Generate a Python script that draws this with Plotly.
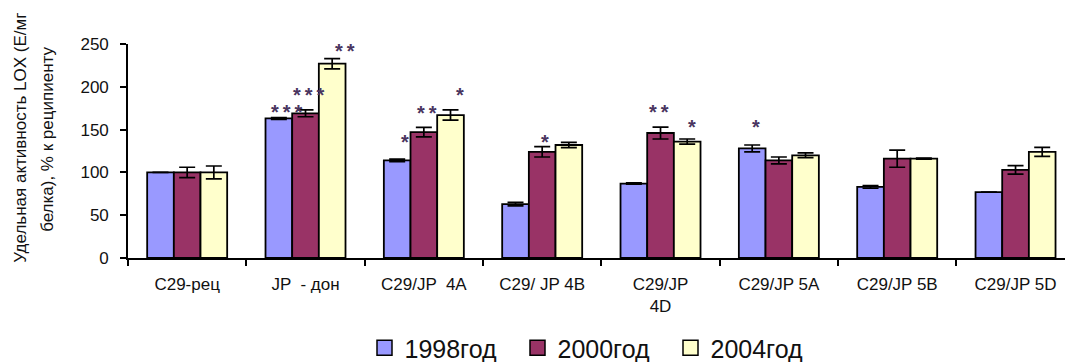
import plotly.graph_objects as go

# LOX specific activity, % of recipient
categories = ["C29-рец", "JP  - дон", "C29/JP  4A", "C29/ JP 4B",
              "C29/JP<br>4D", "C29/JP 5A", "C29/JP 5B", "C29/JP 5D"]
series_names = ["1998год", "2000год", "2004год"]

values_1998 = [100, 163, 114, 63, 87, 128, 83, 77]
values_2000 = [100, 169, 147, 124, 146, 114, 116, 103]
values_2004 = [100, 227, 167, 132, 136, 120, 116, 124]

errors_1998 = [0, 1, 1.5, 2, 0.8, 4, 1.5, 0]
errors_2000 = [6, 4, 5.5, 6, 7, 4, 10, 5]
errors_2004 = [7.5, 6, 6, 3, 3, 2.7, 0.6, 5.3]

# significance marks: (category index, series index, text)
significance = [
    (1, 0, "***"), (1, 1, "***"), (1, 2, "**"),
    (2, 0, "*"), (2, 1, "**"), (2, 2, "*"),
    (3, 1, "*"),
    (4, 1, "**"), (4, 2, "*"),
    (5, 0, "*"),
]

colors = ["#9999FF", "#993366", "#FFFFCC"]
values = [values_1998, values_2000, values_2004]
errors = [errors_1998, errors_2000, errors_2004]

FONT = "Arial, Liberation Sans, sans-serif"

fig = go.Figure()
for name, vals, errs, col in zip(series_names, values, errors, colors):
    fig.add_trace(go.Bar(
        name=name, x=categories, y=vals, showlegend=False,
        marker=dict(color=col, line=dict(color="black", width=1.8)),
        error_y=dict(type="data", array=errs, visible=True,
                     color="black", thickness=1.7, width=8),
    ))
# legend keys: larger outlined squares
for name, col in zip(series_names, colors):
    fig.add_trace(go.Scatter(
        name=name, x=[None], y=[None], mode="markers",
        marker=dict(symbol="square", size=15, color=col,
                    line=dict(color="black", width=1.5)),
    ))

# star placement: vertical centre in axis units and small horizontal nudge (px)
star_layout = {
    (1, 0): (177, 8), (1, 1): (197, 3), (1, 2): (249, 13),
    (2, 0): (142, 8), (2, 1): (176, 3), (2, 2): (197, 9),
    (3, 1): (143, 3),
    (4, 1): (178, -2), (4, 2): (160.5, 5),
    (5, 0): (160.5, 4),
}
bar_step = 0.2254  # bar width in category units
for ci, si, txt in significance:
    yc, dx = star_layout[(ci, si)]
    fig.add_annotation(
        x=ci + (si - 1) * bar_step, y=yc, xref="x", yref="y",
        text="\u2009".join(txt), showarrow=False, xshift=dx, yshift=-6,
        font=dict(family=FONT, size=20, color="#4a3560", weight="bold"),
        xanchor="center", yanchor="middle",
    )

# two-line y title
fig.add_annotation(
    text="Удельная активность LOX (Е/мг", textangle=-90,
    xref="paper", yref="paper", x=-(128 - 21) / 937, y=(258.3 - 138) / 214.3,
    xanchor="center", yanchor="middle", showarrow=False,
    font=dict(family=FONT, size=17, color="#111"),
)
fig.add_annotation(
    text="белка), % к реципиенту", textangle=-90,
    xref="paper", yref="paper", x=-(128 - 48) / 937, y=(258.3 - 140) / 214.3,
    xanchor="center", yanchor="middle", showarrow=False,
    font=dict(family=FONT, size=17, color="#111"),
)

fig.update_layout(
    width=1065, height=362,
    margin=dict(l=128, r=0, t=44, b=104, autoexpand=False),
    paper_bgcolor="white", plot_bgcolor="white",
    barmode="group", bargap=0.324, bargroupgap=0,
    font=dict(family=FONT, color="#111"),
    showlegend=True,
    legend=dict(orientation="h", xref="container", yref="container",
                x=594 / 1065, xanchor="center",
                y=(362 - 348) / 362, yanchor="middle",
                entrywidth=108, tracegroupgap=0,
                font=dict(family=FONT, size=25, color="#111"),
                itemclick=False),
)
fig.update_xaxes(
    range=[-0.5, 7.418], showline=True, linecolor="black", linewidth=1.6,
    ticks="outside", tickson="boundaries", ticklen=6, tickwidth=1.6,
    tickcolor="black", showgrid=False, automargin=False,
    tickfont=dict(family=FONT, size=17, color="#111"),
    ticklabelstandoff=10,
)
fig.update_yaxes(
    range=[0, 250], dtick=50, showline=True, linecolor="black", linewidth=1.6,
    ticks="outside", ticklen=6, tickwidth=1.6, tickcolor="black",
    showgrid=False, zeroline=False, automargin=False,
    tickfont=dict(family=FONT, size=17, color="#111"),
    ticklabelstandoff=8,
)

fig.write_html("out.html")
